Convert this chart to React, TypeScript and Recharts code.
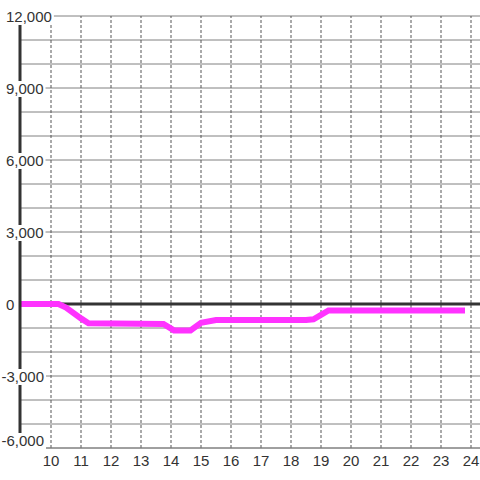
import React from "react"
import {
  LineChart,
  Line,
  XAxis,
  YAxis,
  ReferenceLine,
} from "recharts"

// hour of day -> value
const hours = [9, 10, 10.25, 10.5, 11, 11.25, 13.75, 14.1, 14.65, 15, 15.5, 18.5, 18.75, 19.25, 23.8]
const values = [0, 0, 0, -150, -600, -800, -830, -1100, -1100, -780, -670, -670, -640, -270, -270]

const xTicks = [10, 11, 12, 13, 14, 15, 16, 17, 18, 19, 20, 21, 22, 23, 24]
const yTicks = [
  -6000, -5000, -4000, -3000, -2000, -1000, 0, 1000, 2000, 3000, 4000, 5000, 6000, 7000, 8000, 9000,
  10000, 11000, 12000,
]

const data = hours.map((h, i) => ({ h, v: values[i] }))

const X_DOMAIN: [number, number] = [10 - 31 / 30, 24.3]
const FONT = "'Liberation Sans', Arial, sans-serif"
const FS = 15

function textWidth(s: string) {
  let w = 0
  for (const c of s) {
    if (c === ",") w += FS * 0.278
    else if (c === "-") w += FS * 0.333
    else w += FS * 0.556
  }
  return w
}

function YTick(props: any) {
  const { y, payload } = props
  const v = payload?.value as number
  if (v % 3000 !== 0) return null
  const label = v.toLocaleString("en-US")
  const x0 = v < 0 ? 1.5 : 6
  const cy = v === yTicks[0] ? y - 7 : y + 1
  const w = textWidth(label)
  return (
    <g>
      <rect x={x0 - 2} y={cy - 8} width={w + 4} height={16} fill="#fff" />
      <text x={x0} y={cy} dy="0.36em" textAnchor="start" fontSize={FS} fontFamily={FONT} fill="#333">
        {label}
      </text>
    </g>
  )
}

function XTick(props: any) {
  const { x, y, payload } = props
  return (
    <text x={x} y={y + 18} textAnchor="middle" fontSize={FS} fontFamily={FONT} fill="#333">
      {payload?.value}
    </text>
  )
}

export default function App() {
  return (
    <div style={{ position: "absolute", left: 0, top: 0, width: 480, height: 480, background: "#fff" }}>
      <style>{"body{margin:0}"}</style>
      <LineChart width={480} height={480} data={data} margin={{ top: 16, right: 0, left: 0, bottom: 0 }}>
        {/* solid value lines */}
        {yTicks.map((t) => (
          <ReferenceLine key={"y" + t} y={t} stroke="#808080" />
        ))}
        {/* dotted hour lines */}
        {xTicks.map((t) => (
          <ReferenceLine key={"x" + t} x={t} stroke="#555" strokeDasharray="3 2" />
        ))}
        <XAxis
          dataKey="h"
          type="number"
          domain={X_DOMAIN}
          ticks={xTicks}
          height={32}
          tickLine={false}
          tickSize={0}
          tickMargin={0}
          axisLine={{ stroke: "#808080", strokeWidth: 1 }}
          tick={<XTick />}
          allowDataOverflow
        />
        <YAxis
          type="number"
          domain={[-6000, 12000]}
          ticks={yTicks}
          width={20}
          tickLine={false}
          tickSize={0}
          axisLine={{ stroke: "#333", strokeWidth: 3 }}
          tick={<YTick />}
          interval={0}
        />
        <ReferenceLine y={0} stroke="#333" strokeWidth={3} />
        <Line
          type="linear"
          dataKey="v"
          stroke="#ff33ff"
          strokeWidth={6}
          dot={false}
          activeDot={false}
          isAnimationActive={false}
        />
      </LineChart>
    </div>
  )
}
